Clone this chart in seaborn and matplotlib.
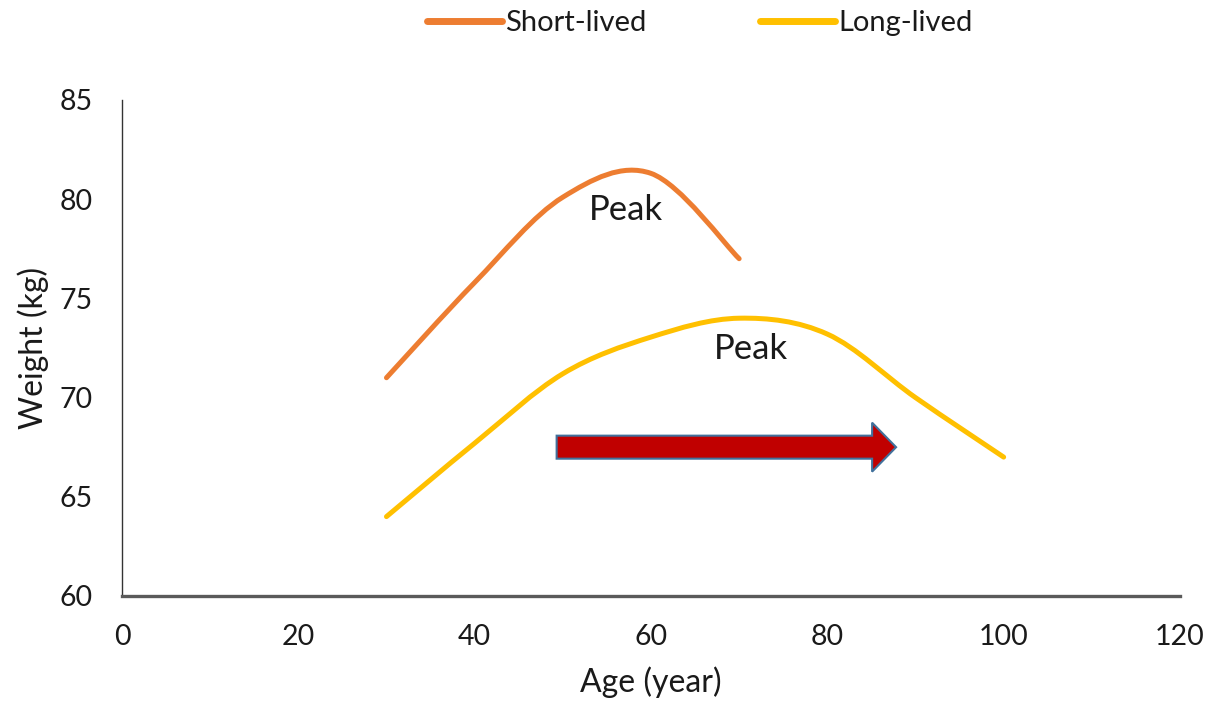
import numpy as np
import pandas as pd
import matplotlib
matplotlib.use("Agg")
import matplotlib.pyplot as plt
from matplotlib.path import Path
from matplotlib.patches import PathPatch, FancyArrow
from matplotlib.lines import Line2D
import seaborn as sns

# data
short_age = [30, 40, 50, 60, 70]
short_weight = [71.0, 75.8, 80.1, 81.3, 77.0]
long_age = [30, 40, 50, 60, 70, 80, 90, 100]
long_weight = [64.0, 67.7, 71.2, 73.05, 74.0, 73.2, 70.0, 67.0]
groups = ["Short-lived", "Long-lived"]
colors = ["#ED7D31", "#FFC000"]
x_ticks = [0, 20, 40, 60, 80, 100, 120]
y_ticks = [60, 65, 70, 75, 80, 85]

df = pd.concat([
    pd.DataFrame({"age": short_age, "weight": short_weight, "group": groups[0]}),
    pd.DataFrame({"age": long_age, "weight": long_weight, "group": groups[1]}),
])

sns.set_theme(style="white")
plt.rcParams["font.family"] = ["Lato", "DejaVu Sans"]
txt = "#1a1a1a"


def smooth_path(xs, ys):
    # Excel style smoothed line: cubic bezier through each point
    pts = np.column_stack([xs, ys])
    n = len(pts)
    verts = [pts[0]]
    codes = [Path.MOVETO]
    for i in range(n - 1):
        p0 = pts[max(i - 1, 0)]
        p1 = pts[i]
        p2 = pts[i + 1]
        p3 = pts[min(i + 2, n - 1)]
        verts += [p1 + (p2 - p0) / 6, p2 - (p3 - p1) / 6, p2]
        codes += [Path.CURVE4] * 3
    return Path(verts, codes)


fig = plt.figure(figsize=(12.1, 7.1), dpi=100)
ax = fig.add_axes([0.1008, 0.1606, 0.8744, 0.6986])

sns.lineplot(data=df, x="age", y="weight", hue="group", palette=colors,
             sort=False, estimator=None, legend=False, ax=ax)

# turn seaborn's polylines into smoothed curves through the same points
for line, col in zip(list(ax.lines), colors):
    xs, ys = line.get_data()
    ax.add_patch(PathPatch(smooth_path(np.asarray(xs, float), np.asarray(ys, float)),
                           facecolor="none", edgecolor=col, lw=3.6,
                           capstyle="round", joinstyle="round", zorder=3))
    line.remove()

ax.set_xlim(0, 120)
ax.set_ylim(60, 85)
ax.set_xticks(x_ticks)
ax.set_yticks(y_ticks)
ax.tick_params(axis="both", length=0, labelsize=20.5, colors=txt)
ax.tick_params(axis="x", pad=20)
ax.tick_params(axis="y", pad=21)
ax.set_xlabel("Age (year)", fontsize=23, color=txt, labelpad=12)
ax.set_ylabel("Weight (kg)", fontsize=23, color=txt, labelpad=8)

for s in ["top", "right"]:
    ax.spines[s].set_visible(False)
ax.spines["left"].set_color("#333333")
ax.spines["left"].set_linewidth(1.0)
ax.spines["bottom"].set_color("#5a5a5a")
ax.spines["bottom"].set_linewidth(2.4)

ax.text(57.2, 79.45, "Peak", fontsize=25, color=txt, ha="center", va="center")
ax.text(71.3, 72.45, "Peak", fontsize=25, color=txt, ha="center", va="center")

ax.add_patch(FancyArrow(49.3, 67.5, 38.5, 0, width=1.16, head_width=2.47,
                        head_length=2.72, length_includes_head=True,
                        facecolor="#C00000", edgecolor="#41719C", lw=1.5, zorder=4))

handles = [Line2D([], [], color=c, lw=5, solid_capstyle="round") for c in colors]
fig.legend(handles, groups, loc="center", bbox_to_anchor=(0.5785, 0.968), ncol=2,
           frameon=False, fontsize=21, handlelength=2.57, handletextpad=0.12,
           columnspacing=3.9, labelcolor=txt)

fig.savefig("out.png", dpi=100)
